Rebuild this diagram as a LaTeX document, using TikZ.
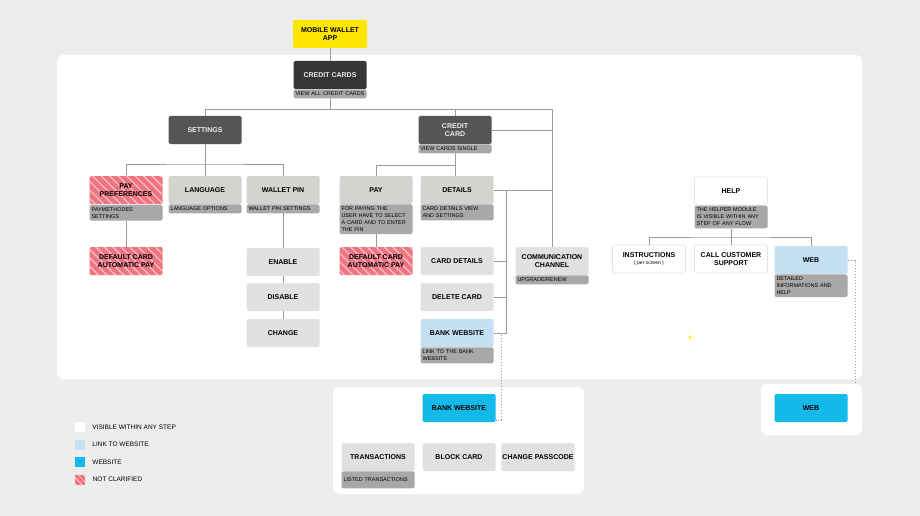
\documentclass[tikz,border=0pt]{standalone}
\usepackage{fontspec}
\setmainfont{Liberation Sans}
\usetikzlibrary{shapes,arrows,positioning,patterns.meta}
\definecolor{bg}{HTML}{EDEDED}
\definecolor{ink}{HTML}{363636}
\definecolor{slate}{HTML}{555555}
\definecolor{paper}{HTML}{EEEEEE}
\definecolor{subgray}{HTML}{A8A8A8}
\definecolor{pale}{HTML}{D5D3D0}
\definecolor{lite}{HTML}{E1E1E3}
\definecolor{edge}{HTML}{E4E4E4}
\definecolor{linkblue}{HTML}{C6E0F3}
\definecolor{siteblue}{HTML}{12B9E9}
\definecolor{sun}{HTML}{FFE600}
\definecolor{rose}{HTML}{EF7482}
\definecolor{roseline}{HTML}{F8BCC3}
\definecolor{wiregray}{HTML}{9A9A9A}
\tikzstyle{box} = [rectangle,rounded corners=1.5pt,minimum width=73pt,minimum height=28pt,inner sep=1pt,align=center,font=\fontsize{7}{8}\selectfont\bfseries]
\tikzstyle{dark} = [box,fill=ink,text=paper]
\tikzstyle{mid} = [box,fill=slate,text=paper]
\tikzstyle{pale} = [box,fill=pale]
\tikzstyle{lite} = [box,fill=lite]
\tikzstyle{plain} = [box,fill=white,draw=edge,line width=0.6pt]
\tikzstyle{link} = [box,fill=linkblue]
\tikzstyle{site} = [box,fill=siteblue]
\tikzstyle{hatch} = [box,preaction={fill=rose},pattern={Lines[angle=-45,distance=6pt,line width=1.3pt]},pattern color=roseline]
\tikzstyle{sub} = [rectangle,rounded corners=1.5pt,fill=subgray,anchor=north,text width=69pt,inner xsep=2pt,inner ysep=2.5pt,align=left,font=\fontsize{5.5}{7}\selectfont]
\tikzstyle{wire} = [draw=wiregray,line width=0.9pt]
\tikzstyle{dots} = [draw=wiregray,line width=1pt,dash pattern=on 1.5pt off 1.5pt]
\tikzstyle{panel} = [fill=white,rounded corners=6pt]
\tikzstyle{key} = [rectangle,minimum size=10pt,inner sep=0]
\tikzstyle{keytext} = [inner sep=0,font=\fontsize{6.5}{8}\selectfont]
\def \gap {7pt}

\begin{document}
\begin{tikzpicture}[x=1pt,y=-1pt]
      \fill[bg] (0,0) rectangle (920,516);
      \fill[panel] (57,55) rectangle (862,379);
      \fill[panel] (333,387) rectangle (584,494);
      \fill[panel] (761,384) rectangle (862,435);
      \fill[sun] (689,335) -- (692,338) -- (689,339) -- cycle;

      \node[box,fill=sun,minimum width=74pt] (mwa) at (330,34) {MOBILE WALLET\\APP};
      \node[dark] (cc) at (330,75) {CREDIT CARDS};
      \node[sub] (ccs) at (cc.south) {\mbox{VIEW ALL CREDIT CARDS}};

      \node[mid] (set) at (205,130) {SETTINGS};
      \node[mid] (card) at (455,130) {CREDIT\\CARD};
      \node[sub] (cards) at (card.south) {VIEW CARDS SINGLE};

      \node[hatch] (pp) at (126,190) {PAY\\PREFERENCES};
      \node[sub] (pps) at (pp.south) {PAYMETHODES\\SETTINGS};
      \node[hatch] (dc1) at (126,261) {DEFAULT CARD\\AUTOMATIC PAY};
      \node[pale] (lang) at (205,190) {LANGUAGE};
      \node[sub] (langs) at (lang.south) {LANGUAGE OPTIONS};
      \node[pale] (wpin) at (283,190) {WALLET PIN};
      \node[sub] (wpins) at (wpin.south) {WALLET PIN SETTINGS};
      \node[lite] (en) at (283,262) {ENABLE};
      \node[lite] (dis) at (283,297) {DISABLE};
      \node[lite] (chg) at (283,333) {CHANGE};

      \node[pale] (pay) at (376,190) {PAY};
      \node[sub] (pays) at (pay.south) {FOR PAYING THE\\USER HAVE TO SELECT\\A CARD AND TO ENTER\\THE PIN};
      \node[hatch] (dc2) at (376,261) {DEFAULT CARD\\AUTOMATIC PAY};
      \node[pale] (dtl) at (457,190) {DETAILS};
      \node[sub] (dtls) at (dtl.south) {CARD DETAILS VIEW\\AND SETTINGS};
      \node[lite] (cdet) at (457,261) {CARD DETAILS};
      \node[lite] (del) at (457,297) {DELETE CARD};
      \node[link] (bws) at (457,333) {BANK WEBSITE};
      \node[sub] (bwss) at (bws.south) {LINK TO THE BANK\\WEBSITE};
      \node[lite] (comm) at (552,261) {COMMUNICATION\\CHANNEL};
      \node[sub] (comms) at (comm.south) {UPGRADE/RENEW};

      \node[plain] (help) at (731,191) {HELP};
      \node[sub] (helps) at (help.south) {THE HELPER MODULE\\IS VISIBLE WITHIN ANY\\STEP OF ANY FLOW};
      \node[plain] (ins) at (649,259) {INSTRUCTIONS\\[-1pt]{\fontsize{5}{6}\selectfont\mdseries ( per screen )}};
      \node[plain] (call) at (731,259) {CALL CUSTOMER\\SUPPORT};
      \node[link] (web) at (811,260) {WEB};
      \node[sub] (webs) at (web.south) {DETAILED\\INFORMATIONS AND\\HELP};

      \node[site] (bsite) at (459,408) {BANK WEBSITE};
      \node[lite] (trans) at (378,457) {TRANSACTIONS};
      \node[sub,minimum height=17pt] (transs) at (trans.south) {\mbox{LISTED TRANSACTIONS}};
      \node[lite] (blk) at (459,457) {BLOCK CARD};
      \node[lite] (cpc) at (538,457) {CHANGE PASSCODE};
      \node[site] (web2) at (811,408) {WEB};

      \coordinate (bus) at (552,109);
      \coordinate (sbus) at (205,164);
      \coordinate (cbus) at (455,165);
      \coordinate (dbus) at (506,190);
      \coordinate (hbus) at (731,237);
      \coordinate (bturn) at (501,420);
      \coordinate (wturn) at (855,384);

      \draw[wire] (mwa.south) -- (cc.north);
      \draw[wire] (ccs.south) |- (bus);
      \draw[wire] (set.north) |- (bus);
      \draw[wire] (card.north) -- (card.north |- bus);
      \draw[wire] (card.east) -- (card.east -| bus);
      \draw[wire] (dtl.east) -- (dtl.east -| bus);
      \draw[wire] (bus) -- (comm.north);
      \draw[wire] (set.south) -- (sbus);
      \draw[wire] (pp.north) |- (sbus) -| (wpin.north);
      \draw[wire] (sbus) -- (lang.north);
      \draw[wire] (pps.south) -- (dc1.north);
      \draw[wire] (wpins.south) -- (en.north);
      \draw[wire] (en.south) -- (dis.north);
      \draw[wire] (dis.south) -- (chg.north);
      \draw[wire] (cards.south) -- (cbus);
      \draw[wire] (pay.north) |- (cbus) -- (cbus |- dtl.north);
      \draw[wire] (pays.south) -- (dc2.north);
      \draw[wire] (dbus) |- (bws.east);
      \draw[wire] (cdet.east) -- (cdet.east -| dbus);
      \draw[wire] (del.east) -- (del.east -| dbus);
      \draw[wire] (helps.south) -- (hbus);
      \draw[wire] (ins.north) |- (hbus) -| (web.north);
      \draw[wire] (hbus) -- (call.north);
      \draw[dots] (bws.east) -| (bturn) -- (bturn -| bsite.east);
      \draw[dots] (web.east) -| (wturn);

      \node[key,fill=white] (k1) at (80,427) {};
      \node[key,fill=linkblue] (k2) at (80,444.5) {};
      \node[key,fill=siteblue] (k3) at (80,462) {};
      \node[key,preaction={fill=rose},pattern={Lines[angle=-45,distance=4pt,line width=1.2pt]},pattern color=roseline] (k4) at (80,479.5) {};
      \node[keytext,right=\gap of k1] (t1) {VISIBLE WITHIN ANY STEP};
      \node[keytext,right=\gap of k2] (t2) {LINK TO WEBSITE};
      \node[keytext,right=\gap of k3] (t3) {WEBSITE};
      \node[keytext,right=\gap of k4] (t4) {NOT CLARIFIED};
\end{tikzpicture}
\end{document}
